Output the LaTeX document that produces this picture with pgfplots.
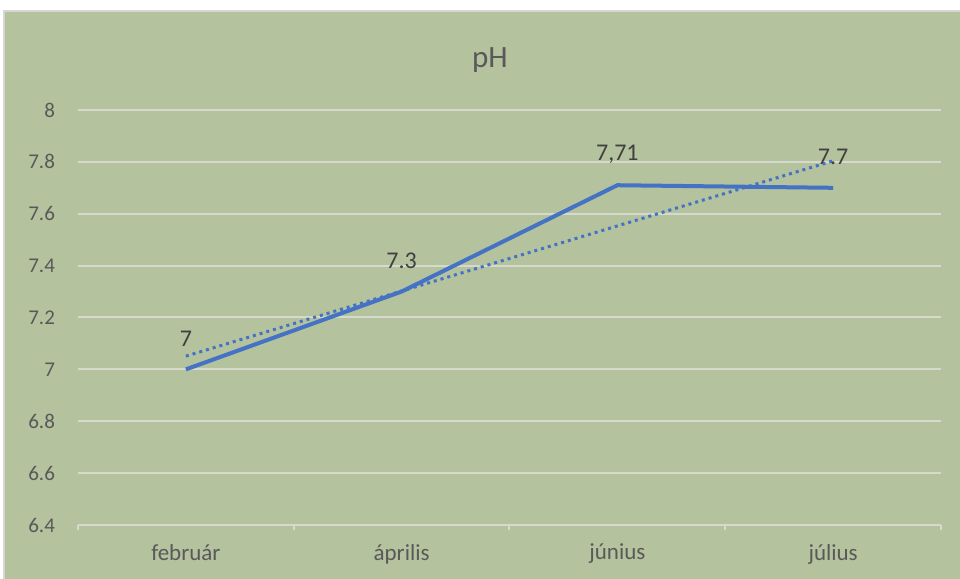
\documentclass[border=0pt]{standalone}
\usepackage{fontspec}
\setmainfont{Carlito}
\usepackage{pgfplots}
\pgfplotsset{compat=1.18}

\definecolor{chartbg}{RGB}{180,194,158}
\definecolor{chartborder}{RGB}{214,214,214}
\definecolor{gridc}{RGB}{214,217,205}
\definecolor{phblue}{RGB}{68,114,196}
\definecolor{labelgray}{RGB}{89,89,89}
\definecolor{valgray}{RGB}{64,64,64}

\begin{document}
\begin{tikzpicture}
  % page frame and chart area
  \useasboundingbox (0pt,0pt) rectangle (480pt,289.5pt);
  \fill[white] (0pt,0pt) rectangle (480pt,289.5pt);
  \fill[chartbg] (2pt,0pt) rectangle (480pt,284pt);
  \draw[chartborder, line width=0.8pt] (2pt,-1pt) -- (2pt,284pt) -- (481pt,284pt);

  \node[font=\fontsize{15.5}{18}\selectfont, text=labelgray] at (245pt,259.5pt) {pH};

  \begin{axis}[
      at={(39pt,27pt)}, anchor=south west,
      scale only axis,
      width=431.5pt, height=207.5pt,
      xmin=0.5, xmax=4.5,
      ymin=6.4, ymax=8,
      xtick={1,2,3,4},
      xticklabels={február, április, június, július},
      minor xtick={0.5,1.5,2.5,3.5,4.5},
      xtick pos=bottom,
      ytick={6.4,6.6,6.8,7,7.2,7.4,7.6,7.8,8},
      major tick length=0pt,
      minor tick length=2.5pt,
      tick align=outside,
      minor x tick style={draw=gridc, line width=1pt},
      axis line style={draw=none},
      ymajorgrids,
      major grid style={draw=gridc, line width=1pt},
      /pgf/number format/assume math mode=true,
      /pgf/number format/fixed,
      yticklabel style={font=\fontsize{10.5}{12}\selectfont, text=labelgray, xshift=-8pt},
      xticklabel style={font=\fontsize{11.5}{13}\selectfont, text=labelgray, yshift=-6pt},
      clip=false,
    ]
    % measured pH values
    \addplot[phblue, line width=2pt, line join=round,
             nodes near coords,
             point meta=explicit symbolic,
             every node near coord/.append style={font=\fontsize{12}{14}\selectfont,
               text=valgray, anchor=center, yshift=15.5pt}]
      coordinates {(1,7)[7] (2,7.3)[7.3] (3,7.71)[7,71] (4,7.7)[7.7]};
    % linear trend line
    \addplot[phblue, line width=1.5pt, dotted]
      coordinates {(1,7.051) (4,7.804)};
  \end{axis}
\end{tikzpicture}
\end{document}
